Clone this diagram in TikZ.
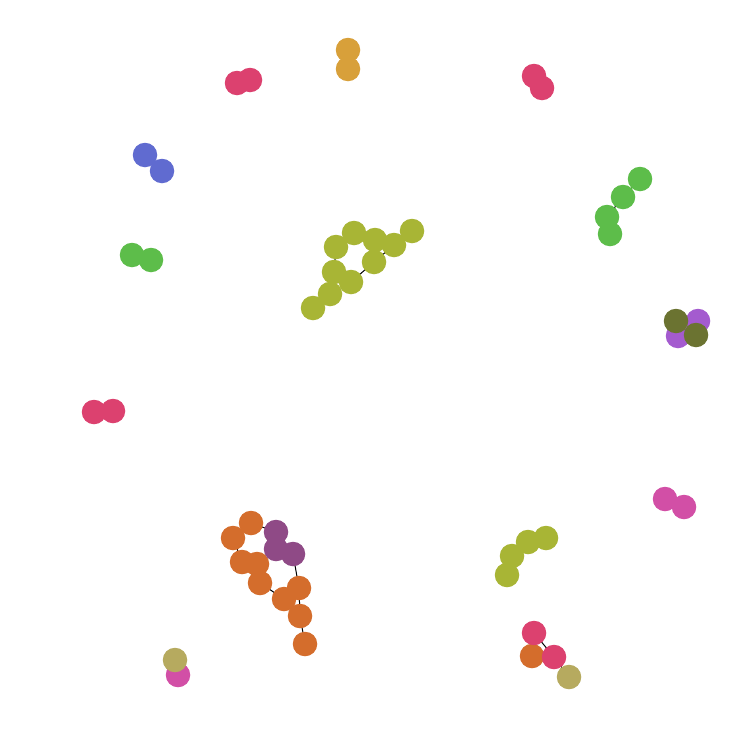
\documentclass[tikz,border=0pt]{standalone}
\begin{document}
\begin{tikzpicture}[x=1pt,y=-1pt,
  v/.style={circle,inner sep=0pt,minimum size=24.5pt,fill=#1,draw=none},
  e/.style={draw=black,line width=1pt}]
\definecolor{cyg}{HTML}{A8B535}
\definecolor{cor}{HTML}{D46D2C}
\definecolor{cpu}{HTML}{8F4A86}
\definecolor{cgo}{HTML}{D8A03A}
\definecolor{crd}{HTML}{DC416F}
\definecolor{cbl}{HTML}{606BD0}
\definecolor{cgr}{HTML}{5DBD4A}
\definecolor{cvi}{HTML}{A45BCF}
\definecolor{col}{HTML}{6B7331}
\definecolor{cpk}{HTML}{D24FA6}
\definecolor{ckh}{HTML}{B6AA5F}
\fill[white] (0,0) rectangle (746,747);
\useasboundingbox (0,0) rectangle (746,747);
% coordinates
\coordinate (a1) at (412,231); \coordinate (a2) at (394,245); \coordinate (a3) at (375,240);
\coordinate (a4) at (354,233); \coordinate (a5) at (336,247); \coordinate (a6) at (374,262);
\coordinate (a7) at (334,272); \coordinate (a8) at (351,282); \coordinate (a9) at (330,294);
\coordinate (a10) at (313,308);
\coordinate (o1) at (251,523); \coordinate (o2) at (233,538); \coordinate (o3) at (242,562);
\coordinate (o4) at (257,564); \coordinate (o5) at (260,583); \coordinate (o6) at (284,599);
\coordinate (o7) at (299,588); \coordinate (o8) at (300,616); \coordinate (o9) at (305,644);
\coordinate (p1) at (276,532); \coordinate (p2) at (276,549); \coordinate (p3) at (293,554);
\coordinate (b1) at (534,633); \coordinate (b2) at (532,656); \coordinate (b3) at (554,657); \coordinate (b4) at (569,677);
\coordinate (g1) at (640,179); \coordinate (g2) at (623,197); \coordinate (g3) at (607,217); \coordinate (g4) at (610,234);
\coordinate (y1) at (546,538); \coordinate (y2) at (528,542); \coordinate (y3) at (512,556); \coordinate (y4) at (507,575);
% edges
\path[e] (a1)--(a2) (a2)--(a6) (a3)--(a4) (a4)--(a5) (a5)--(a7) (a7)--(a9) (a9)--(a10) (a6)--(a8) (a7)--(a8) (a3)--(a6);
\path[e] (o1)--(p1) (p1)--(p2) (p2)--(p3) (p3)--(o7) (o1)--(o2) (o2)--(o3) (o3)--(o4) (o4)--(o5) (o5)--(o6) (o6)--(o7) (o7)--(o8) (o8)--(o9);
\path[e] (b1)--(b3) (b2)--(b3) (b3)--(b4);
\path[e] (g1)--(g2) (g2)--(g3) (g3)--(g4);
\path[e] (y1)--(y2) (y2)--(y3) (y3)--(y4);
% nodes
\foreach \n in {a1,a2,a3,a4,a5,a6,a7,a8,a9,a10} \node[v=cyg] (N\n) at (\n) {};
\foreach \n in {o1,o2,o3,o4,o5,o6,o7,o8,o9} \node[v=cor] (N\n) at (\n) {};
\foreach \n in {p1,p2,p3} \node[v=cpu] (N\n) at (\n) {};
\node[v=ckh] (Nb4) at (b4) {};
\node[v=cor] (Nb2) at (b2) {};
\node[v=crd] (Nb1) at (b1) {};
\node[v=crd] (Nb3) at (b3) {};
\foreach \n in {g1,g2,g3,g4} \node[v=cgr] (N\n) at (\n) {};
\foreach \n in {y1,y2,y3,y4} \node[v=cyg] (N\n) at (\n) {};
\node[v=cgo] (c1) at (348,50) {}; \node[v=cgo] (c2) at (348,69) {};
\node[v=crd] (r1) at (250,80) {}; \node[v=crd] (r2) at (237,83) {};
\node[v=crd] (r3) at (534,76) {}; \node[v=crd] (r4) at (542,88) {};
\node[v=cbl] (u1) at (145,155) {}; \node[v=cbl] (u2) at (162,171) {};
\node[v=cgr] (h1) at (132,255) {}; \node[v=cgr] (h2) at (151,260) {};
\node[v=cvi] (m1) at (698,321) {}; \node[v=cvi] (m2) at (678,336) {};
\node[v=col] (l1) at (676,321) {}; \node[v=col] (l2) at (696,335) {};
\node[v=crd] (r5) at (94,412) {}; \node[v=crd] (r6) at (113,411) {};
\node[v=cpk] (k1) at (665,499) {}; \node[v=cpk] (k2) at (684,507) {};
\node[v=cpk] (k3) at (178,675) {}; \node[v=ckh] (k4) at (175,660) {};
\end{tikzpicture}
\end{document}
